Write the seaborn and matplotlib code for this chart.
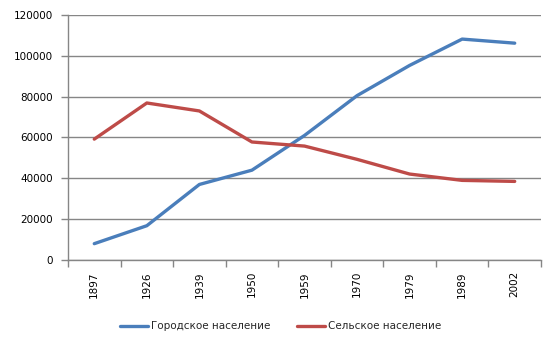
import matplotlib
matplotlib.use("Agg")
import matplotlib.pyplot as plt
from matplotlib.ticker import FixedLocator
import seaborn as sns
import pandas as pd
import numpy as np

years = ["1897", "1926", "1939", "1950", "1959", "1970", "1979", "1989", "2002"]
urban = [8000, 16800, 37000, 44000, 61000, 80500, 95300, 108200, 106200]
rural = [59200, 76900, 73000, 57800, 55800, 49300, 42100, 39000, 38500]
series_names = ["Городское население", "Сельское население"]
colors = ["#4A7EBB", "#BE4B48"]

sns.set_theme(style="white")
plt.rcParams["font.family"] = ["DejaVu Sans"]

df = pd.DataFrame({
    "pos": list(range(len(years))) * 2,
    "value": urban + rural,
    "series": [series_names[0]] * len(years) + [series_names[1]] * len(years),
})

fig = plt.figure(figsize=(5.56, 3.47), dpi=100)
ax = fig.add_axes([0.1223, 0.2507, 0.8507, 0.7061])

sns.lineplot(data=df, x="pos", y="value", hue="series", palette=colors,
             linewidth=2.4, ax=ax, legend=True)

ax.set_xlim(-0.5, len(years) - 0.5)
ax.set_ylim(0, 120000)
ax.set_yticks(np.arange(0, 120001, 20000))
ax.set_yticklabels([str(v) for v in range(0, 120001, 20000)], fontsize=7.5, color="#000000")
ax.yaxis.grid(True, color="#868686", linewidth=1)
ax.xaxis.grid(False)
ax.set_axisbelow(True)

ax.set_xticks(range(len(years)))
ax.set_xticklabels(years, rotation=90, fontsize=7.5, color="#000000")
ax.xaxis.set_minor_locator(FixedLocator(np.arange(-0.5, len(years), 1.0)))
ax.tick_params(axis="x", which="major", length=0, pad=8)
ax.tick_params(axis="x", which="minor", length=5, color="#868686", width=1, bottom=True)
ax.tick_params(axis="y", which="major", length=5, color="#868686", width=1, left=True, pad=6)

ax.set_xlabel("")
ax.set_ylabel("")
for s in ["top", "right"]:
    ax.spines[s].set_visible(False)
for s in ["left", "bottom"]:
    ax.spines[s].set_color("#868686")
    ax.spines[s].set_linewidth(1)

h, l = ax.get_legend_handles_labels()
ax.legend_.remove()
fig.legend(h, l, loc="center", bbox_to_anchor=(0.505, 0.06), ncol=2, frameon=False,
           fontsize=7.5, handlelength=2.7, columnspacing=2.5, handletextpad=0.3)

fig.savefig("out.png", dpi=100, facecolor="white")
